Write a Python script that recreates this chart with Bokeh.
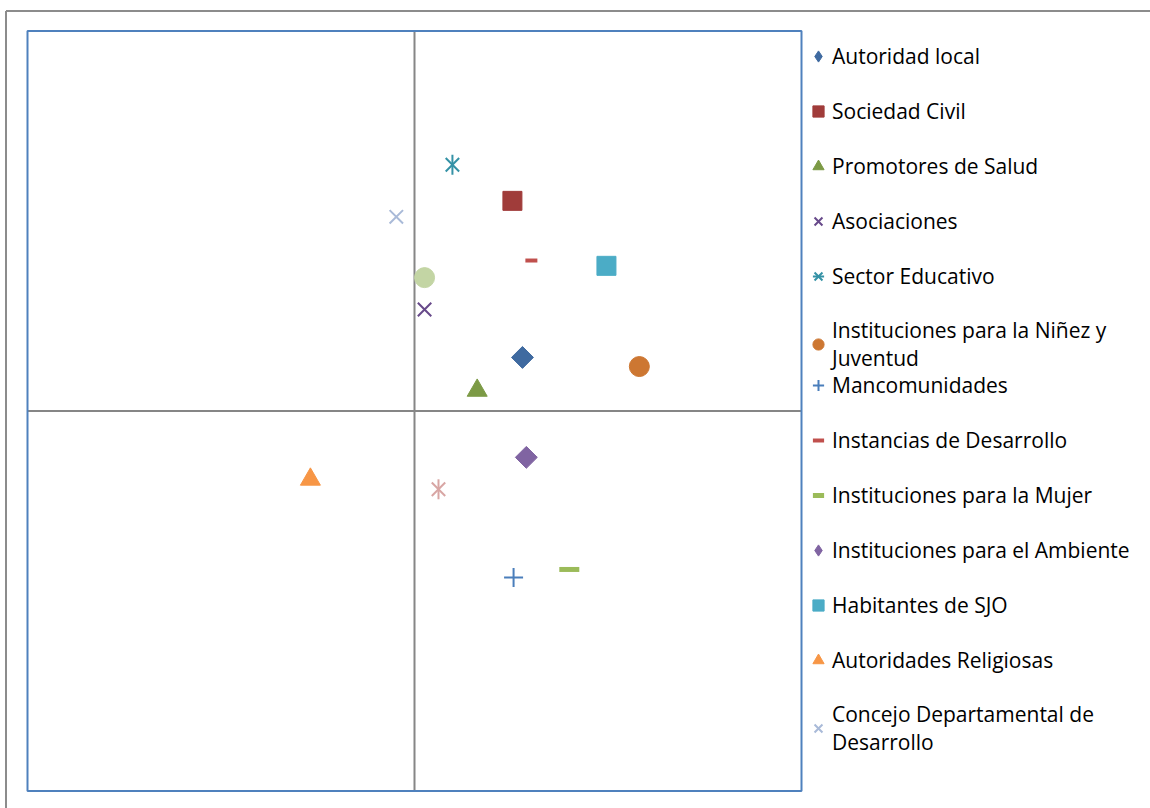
import numpy as np
from bokeh.plotting import figure
from bokeh.models import Legend, LegendItem, Range1d, BoxAnnotation
from bokeh.embed import file_html
from bokeh.resources import INLINE

# ---- data ----
series_names = [
    "Autoridad local", "Sociedad Civil", "Promotores de Salud", "Asociaciones",
    "Sector Educativo", "Instituciones para la Niñez y\nJuventud", "Mancomunidades",
    "Instancias de Desarrollo", "Instituciones para la Mujer",
    "Instituciones para el Ambiente", "Habitantes de SJO", "Autoridades Religiosas",
    "Concejo Departamental de\nDesarrollo", "Serie 14", "Serie 15",
]
x_values = [2.79, 2.53, 1.62, 0.26, 0.98, 5.81, 2.56, 3.02, 4.00, 2.89, 4.96, -2.69, -0.47, 0.26, 0.62]
y_values = [1.41, 5.53, 0.54, 2.67, 6.48, 1.17, -4.38, 3.96, -4.17, -1.22, 3.82, -1.80, 5.11, 3.51, -2.06]
colors = ["#3F6AA0", "#A03C3A", "#7C9A45", "#67498A", "#3592A6", "#CD7732", "#4A7EBB",
          "#C0504D", "#9BBB59", "#8064A2", "#4BACC6", "#F79646", "#A9BAD8", "#C3D5A4", "#D8A6A4"]
x_lim = (-10, 10)
y_lim = (-10, 10)

FONT = "Open Sans"

# ---- layout (pixels) ----
W, H = 1150, 808
box_l, box_r, box_t, box_b = 27, 801, 30.5, 790.5
kx = (box_r - box_l) / (x_lim[1] - x_lim[0])
ky = (box_b - box_t) / (y_lim[1] - y_lim[0])
xr = Range1d(x_lim[0] - box_l / kx, x_lim[1] + (W - box_r) / kx)
yr = Range1d(y_lim[0] - (H - box_b) / ky, y_lim[1] + box_t / ky)

p = figure(width=W, height=H, output_backend="svg", toolbar_location=None,
           x_range=xr, y_range=yr,
           min_border_left=0, min_border_top=0, min_border_right=0, min_border_bottom=0)
p.xaxis.visible = False
p.yaxis.visible = False
p.grid.visible = False
p.outline_line_color = None

# outer chart frame (gray: only its left and top edges fall inside the picture)
fx = xr.start + 5.5 / kx
fy = yr.end - 10.5 / ky
p.segment(x0=[fx, fx], y0=[fy, fy], x1=[fx, xr.end], y1=[yr.start, fy],
          line_color="#8C8C8C", line_width=2)
# plot area border (blue)
p.add_layout(BoxAnnotation(left=x_lim[0], right=x_lim[1], bottom=y_lim[0], top=y_lim[1],
                           fill_alpha=0, line_color="#4F81BD", line_alpha=1.0, line_width=2))

# axes through the origin
p.segment(x0=[0, x_lim[0]], y0=[y_lim[0], 0], x1=[0, x_lim[1]], y1=[y_lim[1], 0],
          line_color="#868686", line_width=2)

renderers = []
for i, name in enumerate(series_names):
    x = [x_values[i]]
    y = [y_values[i]]
    c = colors[i]
    rs = []
    if i in (0, 9):  # diamond (legend uses a hidden 'diamond' renderer)
        p.scatter(x, y, marker="square", size=15.5, angle=np.pi / 4, fill_color=c, line_color=c)
        rs.append(p.scatter(x, y, marker="diamond", size=15, fill_color=c, line_color=c,
                            visible=False))
    elif i in (1, 10):  # square
        rs.append(p.scatter(x, y, marker="square", size=19, fill_color=c, line_color=c))
    elif i in (2, 11):  # triangle
        rs.append(p.scatter(x, y, marker="triangle", size=20, fill_color=c, line_color=c))
    elif i in (3, 12):  # x
        rs.append(p.scatter(x, y, marker="x", size=19, line_color=c, line_width=2))
    elif i in (4, 14):  # star
        rs.append(p.scatter(x, y, marker="x", size=19, line_color=c, line_width=2))
        rs.append(p.scatter(x, y, marker="dash", size=20, angle=np.pi / 2, line_color=c, line_width=2))
    elif i in (5, 13):  # circle
        rs.append(p.scatter(x, y, marker="circle", size=20, fill_color=c, line_color=c))
    elif i == 6:  # plus
        rs.append(p.scatter(x, y, marker="cross", size=19, line_color=c, line_width=2))
    elif i == 7:  # small dash
        rs.append(p.scatter(x, y, marker="dash", size=12, line_color=c, line_width=4))
    elif i == 8:  # long dash
        rs.append(p.scatter(x, y, marker="dash", size=20, line_color=c, line_width=5))
    renderers.append(rs)

def make_legend(indices, loc):
    items = [LegendItem(label=series_names[i], renderers=renderers[i]) for i in indices]
    return Legend(items=items, location=loc, border_line_color=None,
                  background_fill_alpha=0, inactive_fill_alpha=0,
                  label_text_font=FONT,
                  label_text_font_size="21px", label_text_color="#000000",
                  label_text_line_height=1.55,
                  glyph_width=28, glyph_height=30, label_height=30,
                  label_standoff=0, spacing=25, padding=0, margin=0, click_policy="none")

p.add_layout(make_legend([0, 1, 2, 3, 4, 5], (804, 436)), "center")
p.add_layout(make_legend([6, 7, 8, 9, 10, 11, 12], (804, 52)), "center")

open("out.html", "w").write(file_html(p, INLINE))
